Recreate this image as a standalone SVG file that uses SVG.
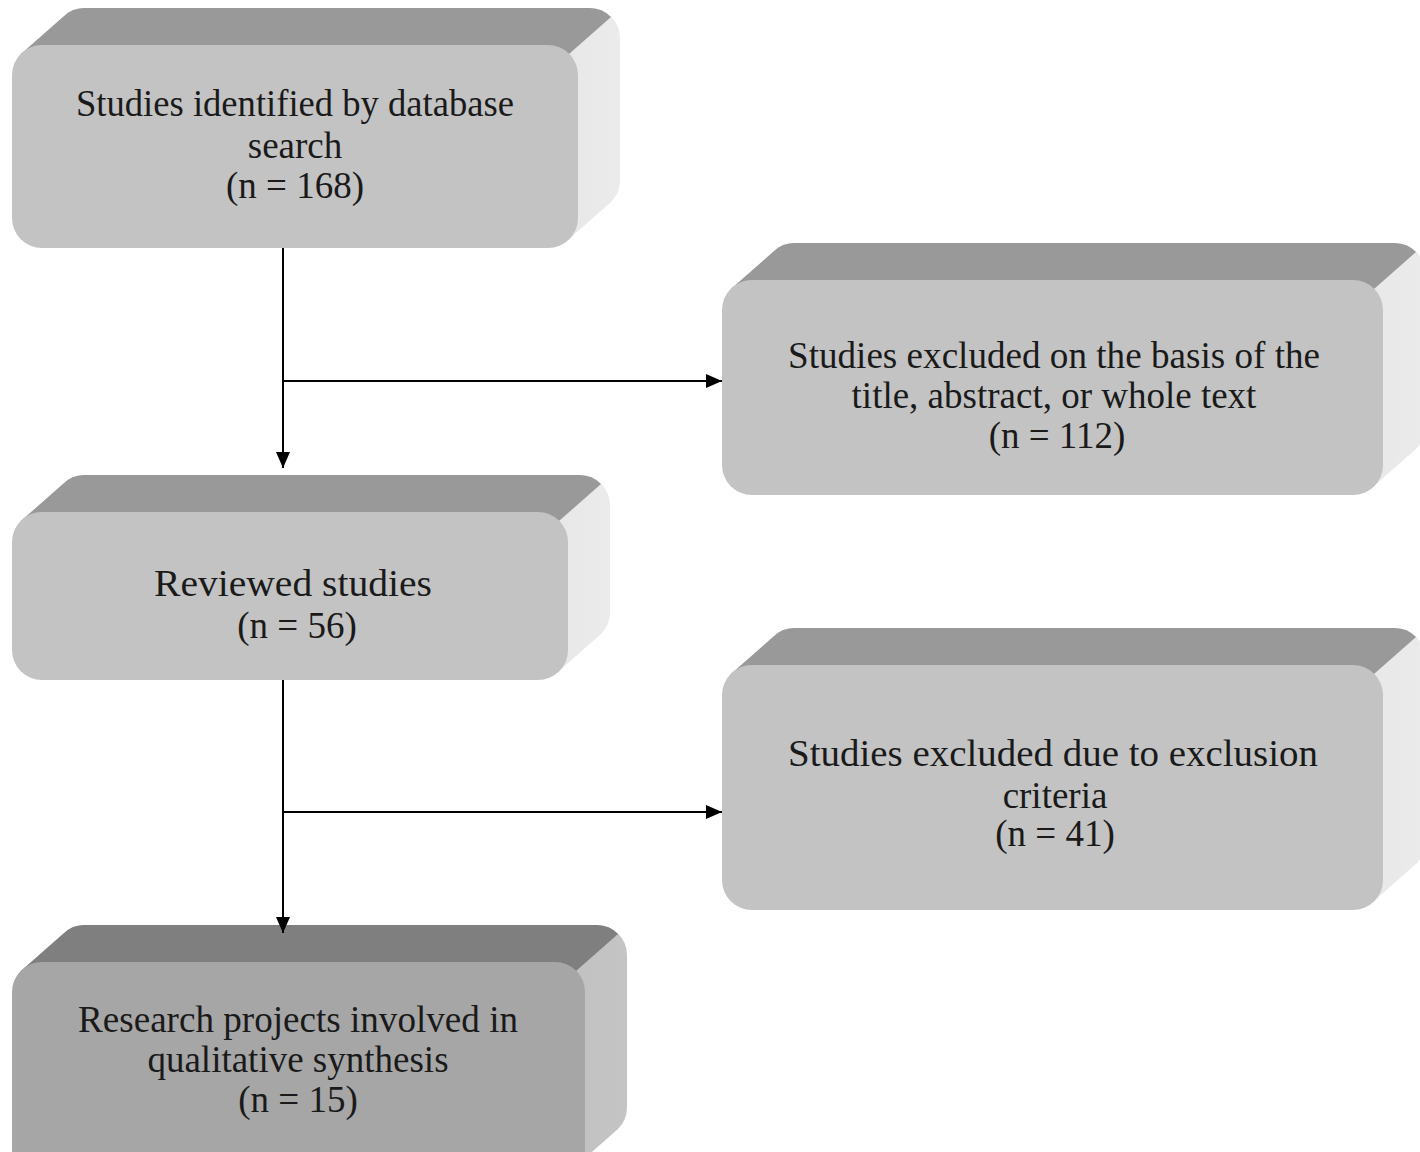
<svg xmlns="http://www.w3.org/2000/svg" width="1420" height="1152" viewBox="0 0 1420 1152">
<defs>
<linearGradient id="sideL" x1="0" y1="0" x2="1" y2="0">
<stop offset="0" stop-color="#c6c6c6"/><stop offset="1" stop-color="#ebebeb"/>
</linearGradient>
<linearGradient id="sideD" x1="0" y1="0" x2="1" y2="0">
<stop offset="0" stop-color="#a8a8a8"/><stop offset="1" stop-color="#c4c4c4"/>
</linearGradient>
<marker id="arr" viewBox="0 0 16 14" refX="16" refY="7" markerWidth="16" markerHeight="14" markerUnits="userSpaceOnUse" orient="auto">
<path d="M0,0 L16,7 L0,14 Z" fill="#000"/>
</marker>
</defs>
<style>
.t{font-family:"Liberation Serif","Times New Roman",serif;font-size:37px;fill:#1a1a1a;text-anchor:middle}
.top{fill:#999999}
.front{fill:#c3c3c3}
.topD{fill:#7f7f7f}
.frontD{fill:#a6a6a6}
.c{stroke:#000;stroke-width:2;fill:none}
</style>
<rect width="1420" height="1152" fill="#fff"/>

<g id="node1">
<path fill="url(#sideL)" d="M21,54 L63,17 A30,30 0 0 1 84,8 L590,8 A30,30 0 0 1 620,38 L620,181 A30,30 0 0 1 611,202 L569,239 L569,54 Z"/>
<path class="top" d="M21,54 L63,17 A30,30 0 0 1 84,8 L590,8 A30,30 0 0 1 611,17 L569,54 Z"/>
<rect class="front" x="12" y="45" width="566" height="203" rx="30"/>
<text class="t" x="295" y="116" textLength="438" lengthAdjust="spacingAndGlyphs">Studies identified by database</text>
<text class="t" x="295" y="158">search</text>
<text class="t" x="295" y="198">(n = 168)</text>
</g>

<g id="node2">
<path fill="url(#sideL)" d="M731,289 L773,252 A30,30 0 0 1 794,243 L1395,243 A30,30 0 0 1 1425,273 L1425,428 A30,30 0 0 1 1416,449 L1374,486 L1374,289 Z"/>
<path class="top" d="M731,289 L773,252 A30,30 0 0 1 794,243 L1395,243 A30,30 0 0 1 1416,252 L1374,289 Z"/>
<rect class="front" x="722" y="280" width="661" height="215" rx="30"/>
<text class="t" x="1054" y="368" textLength="532" lengthAdjust="spacingAndGlyphs">Studies excluded on the basis of the</text>
<text class="t" x="1054" y="408">title, abstract, or whole text</text>
<text class="t" x="1057" y="448">(n = 112)</text>
</g>

<g id="node3">
<path fill="url(#sideL)" d="M21,521 L63,484 A30,30 0 0 1 84,475 L580,475 A30,30 0 0 1 610,505 L610,613 A30,30 0 0 1 601,634 L559,671 L559,521 Z"/>
<path class="top" d="M21,521 L63,484 A30,30 0 0 1 84,475 L580,475 A30,30 0 0 1 601,484 L559,521 Z"/>
<rect class="front" x="12" y="512" width="556" height="168" rx="30"/>
<text class="t" x="293" y="596" textLength="278" lengthAdjust="spacingAndGlyphs">Reviewed studies</text>
<text class="t" x="297" y="638">(n = 56)</text>
</g>

<g id="node4">
<path fill="url(#sideL)" d="M731,674 L773,637 A30,30 0 0 1 794,628 L1395,628 A30,30 0 0 1 1425,658 L1425,843 A30,30 0 0 1 1416,864 L1374,901 L1374,674 Z"/>
<path class="top" d="M731,674 L773,637 A30,30 0 0 1 794,628 L1395,628 A30,30 0 0 1 1416,637 L1374,674 Z"/>
<rect class="front" x="722" y="665" width="661" height="245" rx="30"/>
<text class="t" x="1053" y="766" textLength="530" lengthAdjust="spacingAndGlyphs">Studies excluded due to exclusion</text>
<text class="t" x="1055" y="808">criteria</text>
<text class="t" x="1055" y="846">(n = 41)</text>
</g>

<g id="node5">
<path fill="url(#sideD)" d="M21,971 L63,934 A30,30 0 0 1 84,925 L597,925 A30,30 0 0 1 627,955 L627,1108 A30,30 0 0 1 618,1129 L576,1166 L576,971 Z"/>
<path class="topD" d="M21,971 L63,934 A30,30 0 0 1 84,925 L597,925 A30,30 0 0 1 618,934 L576,971 Z"/>
<rect class="frontD" x="12" y="962" width="573" height="220" rx="30"/>
<text class="t" x="298" y="1032" textLength="440" lengthAdjust="spacingAndGlyphs">Research projects involved in</text>
<text class="t" x="298" y="1072">qualitative synthesis</text>
<text class="t" x="298" y="1112">(n = 15)</text>
</g>

<g id="connectors">
<line class="c" x1="283" y1="248" x2="283" y2="468" marker-end="url(#arr)"/>
<line class="c" x1="283" y1="381" x2="722" y2="381" marker-end="url(#arr)"/>
<line class="c" x1="283" y1="680" x2="283" y2="933" marker-end="url(#arr)"/>
<line class="c" x1="283" y1="812" x2="722" y2="812" marker-end="url(#arr)"/>
</g>
</svg>
